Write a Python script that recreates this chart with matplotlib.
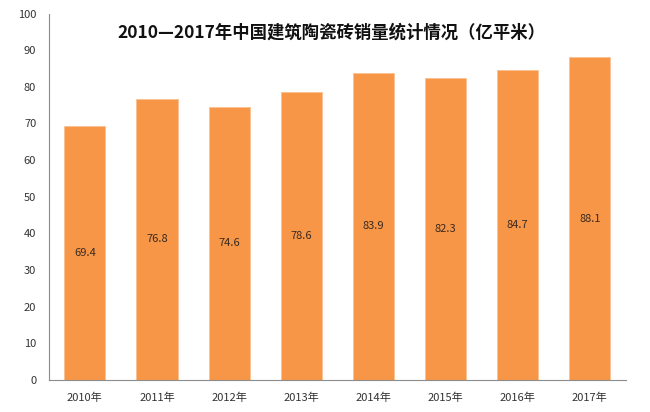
import matplotlib.pyplot as plt

plt.rcParams['font.family'] = ['Noto Sans CJK SC', 'DejaVu Sans']

years = ["2010年", "2011年", "2012年", "2013年", "2014年", "2015年", "2016年", "2017年"]
sales = [69.4, 76.8, 74.6, 78.6, 83.9, 82.3, 84.7, 88.1]

fig = plt.figure(figsize=(6.5, 4.12), dpi=100)
ax = fig.add_axes([0.075, 0.078, 0.888, 0.889])

x = range(len(years))
ax.bar(x, sales, width=0.57, color="#F79646", edgecolor="#FAC090", linewidth=0.6)

for i, v in enumerate(sales):
    ax.text(i, v / 2, f"{v}", ha="center", va="center", fontsize=8, color="#3a2a22")

ax.set_xlim(-0.5, 7.5)
ax.set_ylim(0, 100)
ax.set_yticks(range(0, 101, 10))
ax.set_xticks(list(x))
ax.set_xticklabels(years)
ax.tick_params(axis="both", length=0, labelsize=8, colors="#333333")
ax.tick_params(axis="x", pad=9)
ax.tick_params(axis="y", pad=9)

for s in ["top", "right"]:
    ax.spines[s].set_visible(False)
for s in ["left", "bottom"]:
    ax.spines[s].set_color("#8c8c8c")
    ax.spines[s].set_linewidth(0.8)

fig.text(0.51, 0.922, "2010—2017年中国建筑陶瓷砖销量统计情况（亿平米）",
         ha="center", va="center", fontsize=12.5, fontweight="bold", color="#111111")

plt.savefig("out.png", dpi=100)
